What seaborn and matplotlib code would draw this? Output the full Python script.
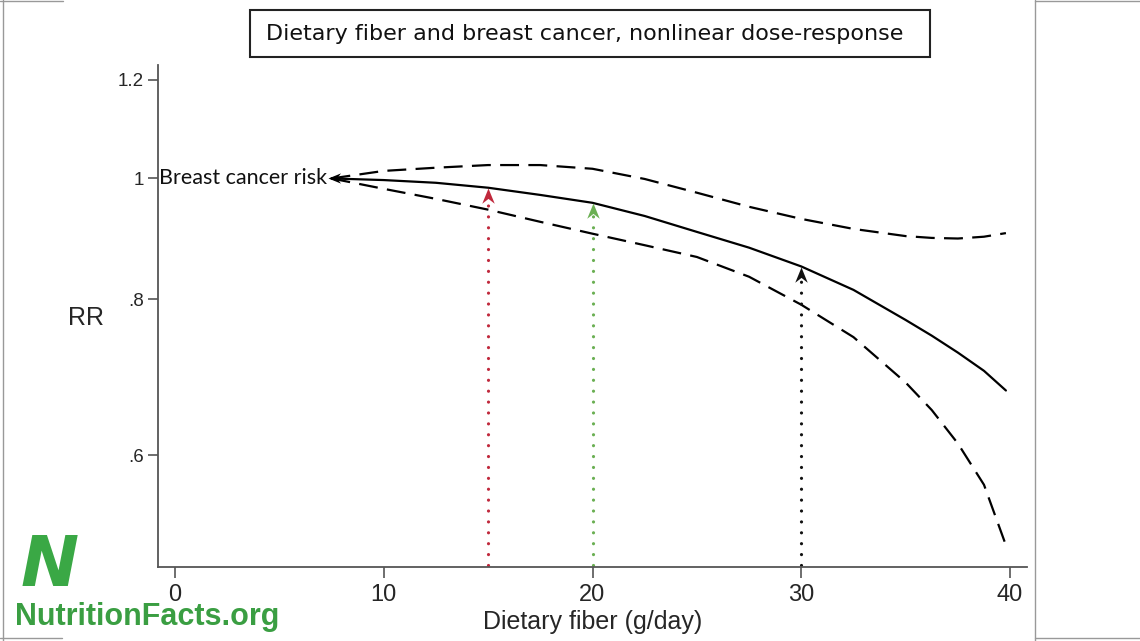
import numpy as np
import pandas as pd
import matplotlib
matplotlib.use("Agg")
import matplotlib.pyplot as plt
import seaborn as sns
from matplotlib.lines import Line2D
from matplotlib.patches import Rectangle
from matplotlib.path import Path
from matplotlib.ticker import NullLocator, FixedLocator, FixedFormatter

# ---------------- data ----------------
fiber = [7.5, 10, 12.5, 15, 17.5, 20, 22.5, 25, 27.5, 30, 32.5, 35, 36.25, 37.5, 38.75, 39.8]
rr = [1.0, 0.997, 0.992, 0.983, 0.970, 0.956, 0.933, 0.906, 0.880, 0.850, 0.814, 0.770, 0.748, 0.725, 0.701, 0.676]
ci_upper = [1.0, 1.014, 1.020, 1.025, 1.025, 1.018, 0.999, 0.974, 0.949, 0.928, 0.911, 0.899, 0.896, 0.895, 0.898, 0.904]
ci_lower = [1.0, 0.981, 0.963, 0.944, 0.923, 0.903, 0.884, 0.865, 0.834, 0.792, 0.746, 0.686, 0.652, 0.613, 0.568, 0.508]

arrow_x = [15, 20, 30]
arrow_rr = [0.982, 0.955, 0.849]
arrow_colors = ["#c0283c", "#6aaf52", "#111111"]

x_ticks = [0, 10, 20, 30, 40]
y_ticks = [0.6, 0.8, 1.0, 1.2]
y_tick_labels = [".6", ".8", "1", "1.2"]

title = "Dietary fiber and breast cancer, nonlinear dose-response"
x_label = "Dietary fiber (g/day)"
y_label = "RR"
curve_label = "Breast cancer risk"
logo_text = "NutritionFacts.org"

df = pd.DataFrame({"fiber": fiber, "rr": rr, "upper": ci_upper, "lower": ci_lower})

# ---------------- figure ----------------
sns.set_style("white")
plt.rcParams["font.family"] = ["Liberation Sans", "DejaVu Sans"]

fig = plt.figure(figsize=(11.4, 6.41), dpi=100)
ax = fig.add_axes([158 / 1140, 1 - 567 / 641, (1027 - 158) / 1140, (567 - 65) / 641])
ax.set_yscale("log")
ax.set_xlim(-0.81, 40.81)
ybot, ytop = 0.488, 1.233
ax.set_ylim(ybot, ytop)

dash = (0, (8.5, 4.2))
sns.lineplot(data=df, x="fiber", y="rr", ax=ax, color="black", lw=1.6, sort=False)
sns.lineplot(data=df, x="fiber", y="upper", ax=ax, color="black", lw=1.6,
             linestyle=dash, sort=False)
sns.lineplot(data=df, x="fiber", y="lower", ax=ax, color="black", lw=1.6,
             linestyle=dash, sort=False)

# arrowhead marker (tip at origin, pointing up)
up_head = Path([(0, 0), (-0.45, -1.1), (0, -0.75), (0.45, -1.1), (0, 0)],
               [Path.MOVETO, Path.LINETO, Path.LINETO, Path.LINETO, Path.CLOSEPOLY])
left_head = Path([(0, 0), (1.1, 0.45), (0.75, 0), (1.1, -0.45), (0, 0)],
                 [Path.MOVETO, Path.LINETO, Path.LINETO, Path.LINETO, Path.CLOSEPOLY])

for xa, ya, col in zip(arrow_x, arrow_rr, arrow_colors):
    ax.plot([xa, xa], [ybot * 1.004, ya * 0.978], color=col, lw=2.3,
            linestyle=(0, (0.01, 3.4)), dash_capstyle="round")
    ax.plot([xa], [ya], marker=up_head, markersize=22, color=col,
            markeredgewidth=0, linestyle="none")

# label with arrow pointing to it
ax.plot([fiber[0] - 0.15], [rr[0]], marker=left_head, markersize=18, color="black",
        markeredgewidth=0, linestyle="none")
ax.text(fiber[0] - 0.2, rr[0], curve_label, ha="right", va="center",
        family=["Lato", "DejaVu Sans"], fontsize=15.5, color="#111111")

# axes styling
for s in ["top", "right"]:
    ax.spines[s].set_visible(False)
for s in ["left", "bottom"]:
    ax.spines[s].set_color("#555555")
    ax.spines[s].set_linewidth(1.3)
ax.yaxis.set_major_locator(FixedLocator(y_ticks))
ax.yaxis.set_major_formatter(FixedFormatter(y_tick_labels))
ax.yaxis.set_minor_locator(NullLocator())
ax.set_xticks(x_ticks)
ax.set_xticklabels([str(v) for v in x_ticks])
ax.tick_params(axis="y", direction="out", length=7, width=1.2, color="#555555",
               labelsize=13.5, pad=3, left=True)
ax.tick_params(axis="x", direction="out", length=8, width=1.2, color="#555555",
               labelsize=17, pad=4, bottom=True)
ax.set_xlabel(x_label, fontsize=18, labelpad=3)
ax.set_ylabel(y_label, fontsize=18, rotation=0, ha="center", va="center")
ax.yaxis.set_label_coords((86 - 158) / 869, (567 - 318) / 502)

# title box
fig.add_artist(Rectangle((250 / 1140, 1 - 57 / 641), 680 / 1140, 47 / 641,
                         transform=fig.transFigure, fill=False, lw=1.5, ec="#222222"))
fig.text(585 / 1140, 1 - 34 / 641, title, ha="center", va="center",
         family=["DejaVu Sans"], fontsize=16, color="#111111")

# logo
fig.text(50 / 1140, 1 - 567 / 641, "N", ha="center", va="center", fontsize=50,
         fontweight="bold", fontstyle="italic", color="#3aa845",
         family=["DejaVu Sans"])
fig.text(15 / 1140, 1 - 617 / 641, logo_text, ha="left", va="center", fontsize=22,
         fontweight="bold", color="#3a9e42", family=["Liberation Sans", "DejaVu Sans"])

# slide border lines
for (x0, y0, x1, y1) in [(3, 0, 3, 641), (0, 1, 63, 1), (0, 638, 62, 638),
                         (1035, 0, 1035, 641), (1035, 1, 1140, 1), (1035, 638, 1140, 638)]:
    fig.add_artist(Line2D([x0 / 1140, x1 / 1140], [1 - y0 / 641, 1 - y1 / 641],
                          transform=fig.transFigure, color="#999999", lw=1))

fig.savefig("out.png", dpi=100)
